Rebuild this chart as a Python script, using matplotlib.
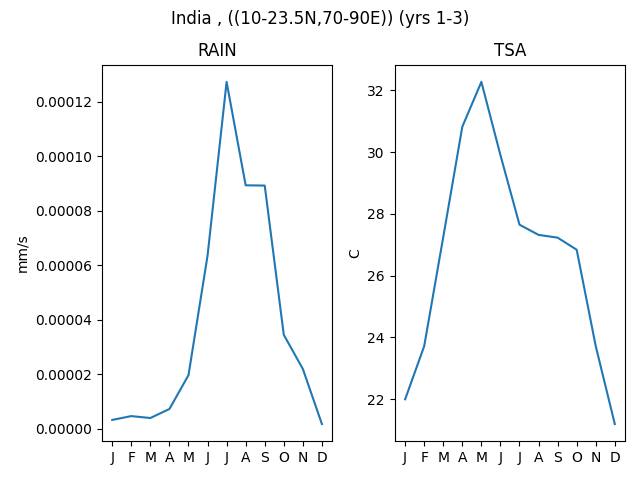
import matplotlib
matplotlib.use("Agg")
import matplotlib.pyplot as plt

months = ["J", "F", "M", "A", "M", "J", "J", "A", "S", "O", "N", "D"]
rain = [3.3e-6, 4.7e-6, 4.0e-6, 7.3e-6, 1.97e-5, 6.35e-5,
        1.272e-4, 8.93e-5, 8.92e-5, 3.45e-5, 2.2e-5, 1.8e-6]
tsa = [22.0, 23.72, 27.25, 30.82, 32.27, 29.9,
       27.65, 27.32, 27.23, 26.84, 23.72, 21.2]

fig, axes = plt.subplots(1, 2, figsize=(6.4, 4.8), dpi=100)
fig.suptitle("India , ((10-23.5N,70-90E)) (yrs 1-3)")

x = range(len(months))

axes[0].plot(x, rain)
axes[0].set_title("RAIN")
axes[0].set_ylabel("mm/s")

axes[1].plot(x, tsa)
axes[1].set_title("TSA")
axes[1].set_ylabel("C")

for ax in axes:
    ax.set_xticks(list(x))
    ax.set_xticklabels(months)

fig.subplots_adjust(left=0.159, right=0.977, top=0.865, bottom=0.081, wspace=0.27)
fig.savefig("out.png")
